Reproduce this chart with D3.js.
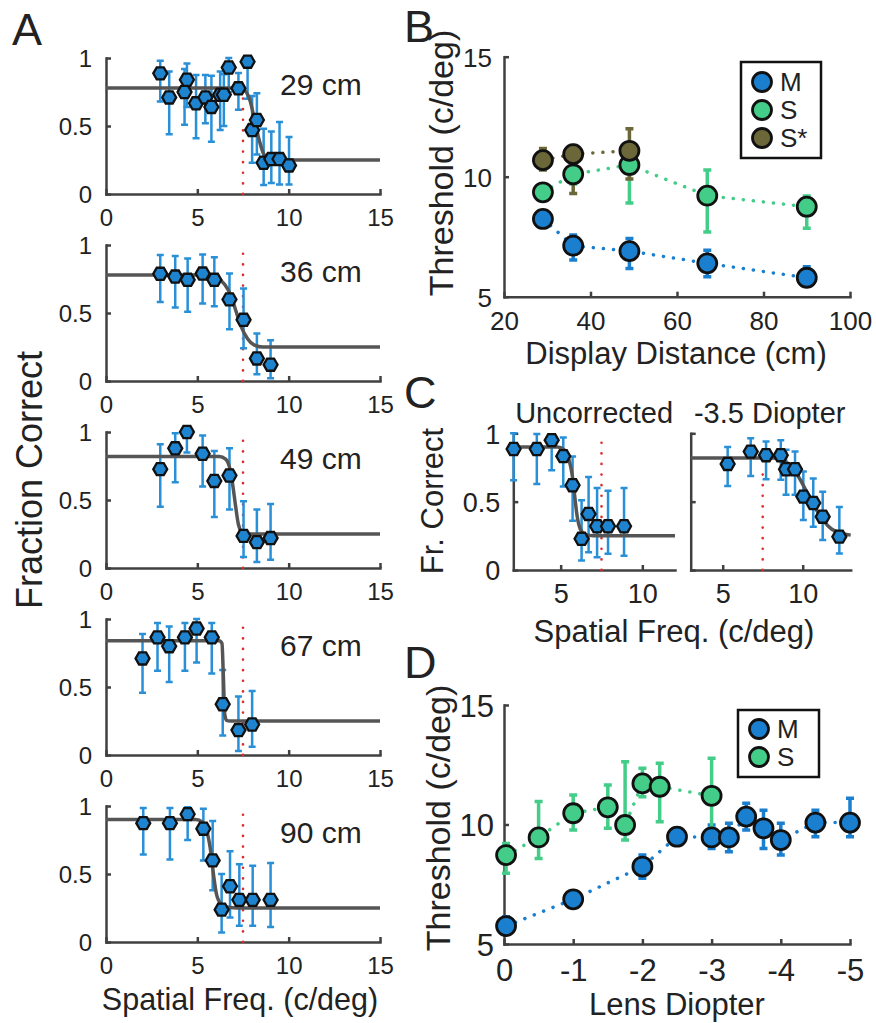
<!DOCTYPE html>
<html>
<head>
<meta charset="utf-8">
<script src="https://cdn.jsdelivr.net/npm/d3@7"></script>
<style>
  body { margin: 0; background: #fff; }
  svg { display: block; font-family: "Liberation Sans", Arial, Helvetica, sans-serif; }
</style>
</head>
<body>
<script>
//Panel A: fraction correct vs spatial frequency, one row per display distance.
const A_LABELS = ["29 cm", "36 cm", "49 cm", "67 cm", "90 cm"];
const A_X = [
  [2.97, 3.46, 4.3, 4.43, 4.93, 5.44, 5.77, 6.25, 6.45, 6.72, 7.25, 7.75, 8.0, 8.26, 8.63, 9.05, 9.5, 10.02],
  [2.97, 3.79, 4.47, 5.29, 5.93, 6.76, 7.53, 8.26, 9.01],
  [2.97, 3.79, 4.43, 5.29, 5.93, 6.76, 7.53, 8.26, 9.01],
  [2.0, 2.82, 3.46, 4.32, 4.96, 5.79, 6.39, 7.25, 8.0],
  [2.04, 3.5, 4.47, 5.33, 5.84, 6.33, 6.79, 7.3, 8.03, 9.01]
];
const A_Y = [
  [0.887, 0.71, 0.75, 0.84, 0.667, 0.71, 0.64, 0.73, 0.73, 0.93, 0.777, 0.973, 0.47, 0.544, 0.23, 0.257, 0.257, 0.21],
  [0.788, 0.768, 0.744, 0.79, 0.744, 0.6, 0.45, 0.166, 0.12],
  [0.727, 0.88, 1.0, 0.84, 0.64, 0.68, 0.236, 0.19, 0.22],
  [0.71, 0.865, 0.8, 0.865, 0.93, 0.865, 0.373, 0.183, 0.224],
  [0.874, 0.874, 0.94, 0.833, 0.6, 0.238, 0.41, 0.31, 0.31, 0.31]
];
const A_LO = [
  [0.68, 0.44, 0.51, 0.64, 0.41, 0.52, 0.385, 0.47, 0.5, 0.75, 0.62, 0.7, 0.23, 0.29, 0.066, 0.08, 0.07, 0.07],
  [0.58, 0.54, 0.51, 0.57, 0.55, 0.38, 0.24, 0.05, 0.02],
  [0.45, 0.63, 0.85, 0.6, 0.375, 0.43, 0.08, 0.045, 0.06],
  [0.457, 0.62, 0.536, 0.62, 0.68, 0.6, 0.144, 0.03, 0.06],
  [0.643, 0.607, 0.75, 0.6, 0.38, 0.07, 0.18, 0.119, 0.12, 0.11]
];
const A_HI = [
  [0.98, 0.9, 0.92, 0.96, 0.875, 0.875, 0.87, 0.9, 0.88, 1.0, 0.89, 0.99, 0.72, 0.74, 0.48, 0.46, 0.53, 0.42],
  [0.927, 0.92, 0.9, 0.93, 0.91, 0.79, 0.68, 0.35, 0.3],
  [0.91, 0.99, 1.0, 0.975, 0.86, 0.88, 0.49, 0.43, 0.47],
  [0.89, 0.97, 0.945, 0.97, 1.0, 0.97, 0.625, 0.43, 0.47],
  [0.986, 0.986, 0.99, 0.98, 0.89, 0.5, 0.667, 0.571, 0.56, 0.58]
];
//Fitted psychometric curves.
const A_FIT_X = [
  [0, 7.2, 7.6, 7.9, 8.15, 8.4, 8.65, 9.0, 9.5, 15],
  [0, 5.6, 6.1, 6.5, 6.8, 7.1, 7.4, 7.75, 8.1, 8.6, 15],
  [0, 6.2, 6.55, 6.8, 6.95, 7.1, 7.25, 7.45, 7.8, 15],
  [0, 6.2, 6.35, 6.42, 6.5, 6.6, 6.8, 15],
  [0, 4.9, 5.3, 5.55, 5.75, 5.9, 6.05, 6.3, 6.7, 7.2, 15]
];
const A_FIT_Y = [
  [0.78, 0.78, 0.76, 0.68, 0.53, 0.39, 0.29, 0.255, 0.25, 0.25],
  [0.78, 0.78, 0.76, 0.71, 0.64, 0.52, 0.4, 0.31, 0.265, 0.25, 0.25],
  [0.82, 0.82, 0.8, 0.72, 0.6, 0.45, 0.32, 0.265, 0.25, 0.25],
  [0.84, 0.84, 0.82, 0.6, 0.3, 0.255, 0.25, 0.25],
  [0.9, 0.9, 0.88, 0.8, 0.65, 0.48, 0.35, 0.28, 0.255, 0.25, 0.25]
];
const A_REF_X = 7.5;
const A_REF_TOP = [0.75, 0.97, 1.0, 0.98, 0.97];
const A_XTICKS = [0, 5, 10, 15];
const A_YTICKS = [0, 0.5, 1];

//Panel B: threshold vs display distance.
const B_DIST = [29, 36, 49, 67, 90];
const B_M = [8.24, 7.125, 6.9, 6.39, 5.79];
const B_M_LO = [8.0, 6.53, 6.18, 5.83, 5.56];
const B_M_HI = [8.5, 7.57, 7.43, 6.94, 6.25];
const B_S = [9.35, 10.1, 10.49, 9.21, 8.75];
const B_S_LO = [9.1, 9.7, 8.9, 7.7, 7.85];
const B_S_HI = [9.6, 10.5, 10.9, 10.28, 9.2];
const B_SSTAR_DIST = [29, 36, 49];
const B_SSTAR = [10.69, 10.94, 11.08];
const B_SSTAR_LO = [10.28, 9.3, 9.9];
const B_SSTAR_HI = [11.18, 11.3, 12.0];
const B_XTICKS = [20, 40, 60, 80, 100];
const B_YTICKS = [5, 10, 15];

//Panel C: uncorrected vs -3.5 diopter lens.
const C_TITLES = ["Uncorrected", "-3.5 Diopter"];
const C_X = [
  [2.12, 3.54, 4.45, 5.16, 5.73, 6.28, 6.71, 7.23, 7.9, 8.88],
  [5.31, 6.75, 7.71, 8.63, 8.96, 9.52, 10.04, 10.66, 11.25, 12.29]
];
const C_Y = [
  [0.885, 0.885, 0.95, 0.833, 0.62, 0.228, 0.41, 0.32, 0.32, 0.32],
  [0.776, 0.866, 0.84, 0.84, 0.737, 0.737, 0.537, 0.49, 0.39, 0.244]
];
const C_LO = [
  [0.657, 0.63, 0.73, 0.61, 0.36, 0.07, 0.13, 0.093, 0.118, 0.105],
  [0.615, 0.688, 0.663, 0.66, 0.55, 0.55, 0.366, 0.317, 0.22, 0.12]
];
const C_HI = [
  [1.0, 0.995, 0.975, 0.97, 0.83, 0.51, 0.68, 0.6, 0.58, 0.6],
  [0.9, 0.963, 0.94, 0.95, 0.88, 0.866, 0.72, 0.67, 0.573, 0.46]
];
const C_FIT_X = [
  [2.1, 4.8, 5.2, 5.5, 5.7, 5.85, 6.0, 6.2, 6.5, 7, 12],
  [3, 8.2, 8.8, 9.3, 9.8, 10.3, 10.8, 11.3, 11.8, 12.4, 13]
];
const C_FIT_Y = [
  [0.9, 0.9, 0.88, 0.81, 0.7, 0.55, 0.4, 0.3, 0.26, 0.25, 0.25],
  [0.82, 0.82, 0.8, 0.76, 0.67, 0.56, 0.45, 0.36, 0.3, 0.27, 0.255]
];
const C_DOMAINS = [[2.1, 12], [3, 13]];
const C_REF_TOP = [0.97, 0.77];
const C_XTICKS = [5, 10];
const C_YTICKS = [0, 0.5, 1];

//Panel D: threshold vs lens diopter.
const D_LENS_M = [-0.03, -1, -2, -2.5, -3, -3.25, -3.5, -3.75, -4, -4.5, -5];
const D_M = [5.75, 6.87, 8.24, 9.49, 9.46, 9.46, 10.33, 9.84, 9.35, 10.08, 10.08];
const D_M_LO = [5.45, 6.56, 7.75, 9.14, 9.0, 8.86, 9.77, 9.0, 8.72, 9.49, 9.49];
const D_M_HI = [6.14, 7.19, 8.72, 9.84, 9.98, 10.05, 10.89, 10.6, 10.05, 10.6, 11.1];
const D_LENS_S = [-0.03, -0.5, -1, -1.5, -1.75, -2, -2.25, -3];
const D_S = [8.72, 9.46, 10.47, 10.72, 9.98, 11.72, 11.58, 11.2];
const D_S_LO = [7.96, 8.58, 9.77, 9.84, 9.35, 11.16, 10.12, 9.42];
const D_S_HI = [9.2, 10.96, 11.23, 11.65, 12.63, 12.35, 12.56, 12.77];
const D_XTICKS = [0, -1, -2, -3, -4, -5];
const D_YTICKS = [5, 10, 15];

//Colours.
const AXIS = "#404040";
const TXT = "#222";
const FIT = "#555";
const REF = "#e02b2b";
const A_FILL = "#1f84cf";
const A_BAR = "#2990d8";
const M_COL = "#1b7fd0";
const S_COL = "#43cd88";
const SS_COL = "#6b6738";

const svg = d3.select("body")
    .append("svg")
    .attr("width", 876)
    .attr("height", 1023);

//Styles an axis drawn by d3 and places its tick labels.
function styleAxis(sel, fs, side, off) {
    sel.attr("font-size", null).attr("font-family", null);
    sel.select(".domain").attr("stroke", AXIS).attr("stroke-width", 2.5).attr("stroke-linecap", "square");
    sel.selectAll(".tick line").attr("stroke", AXIS).attr("stroke-width", 2.5);
    const t = sel.selectAll(".tick text").attr("font-size", fs).attr("fill", TXT);
    if (side === "bottom") t.attr("y", off).attr("dy", null);
    else t.attr("x", -off).attr("dy", "0.36em");
}

function addAxes(g, x, y, xt, yt, fs, xoff, yoff, showY) {
    const yb = y.range()[0];
    g.append("g")
        .attr("transform", "translate(0," + yb + ")")
        .call(d3.axisBottom(x).tickValues(xt).tickSizeInner(-5).tickSizeOuter(0).tickFormat(d => String(d)))
        .call(s => styleAxis(s, fs, "bottom", xoff));
    const ya = g.append("g")
        .attr("transform", "translate(" + x.range()[0] + ",0)")
        .call(d3.axisLeft(y).tickValues(yt).tickSizeInner(-5).tickSizeOuter(0).tickFormat(d => String(d)))
        .call(s => styleAxis(s, fs, "left", yoff));
    if (!showY) ya.selectAll(".tick text").remove();
}

//Vertical error bars with caps.
function errorBars(g, xs, lo, hi, x, y, color, w, cap) {
    g.append("g").selectAll("path")
        .data(xs)
        .enter()
        .append("path")
        .attr("d", (d, i) => {
            const X = x(d), y1 = y(lo[i]), y2 = y(hi[i]);
            return "M" + X + "," + y1 + "V" + y2 + "M" + (X - cap) + "," + y1 + "H" + (X + cap) + "M" + (X - cap) + "," + y2 + "H" + (X + cap);
        })
        .attr("stroke", color)
        .attr("stroke-width", w)
        .attr("fill", "none");
}

const hexagon = d3.line()(d3.range(6).map(k => [7 * Math.cos(k * Math.PI / 3), 7 * Math.sin(k * Math.PI / 3)])) + "Z";

function hexMarkers(g, xs, ys, x, y) {
    g.append("g").selectAll("path")
        .data(xs)
        .enter()
        .append("path")
        .attr("d", hexagon)
        .attr("transform", (d, i) => "translate(" + x(d) + "," + y(ys[i]) + ")")
        .attr("fill", A_FILL)
        .attr("stroke", "#111")
        .attr("stroke-width", 2.3);
}

function fitCurve(g, fx, fy, x, y) {
    g.append("path")
        .attr("d", d3.line().x(d => x(d)).y((d, i) => y(fy[i])).curve(d3.curveMonotoneX)(fx))
        .attr("fill", "none")
        .attr("stroke", FIT)
        .attr("stroke-width", 3.5);
}

function refLine(g, xv, top, x, y) {
    g.append("line")
        .attr("x1", x(xv)).attr("x2", x(xv))
        .attr("y1", y(0)).attr("y2", y(top))
        .attr("stroke", REF)
        .attr("stroke-width", 2.6)
        .attr("stroke-linecap", "round")
        .attr("stroke-dasharray", "0.1 10.5");
}

function dottedSeries(g, xs, ys, x, y, color) {
    g.append("path")
        .attr("d", d3.line().x(d => x(d)).y((d, i) => y(ys[i]))(xs))
        .attr("fill", "none")
        .attr("stroke", color)
        .attr("stroke-width", 3.5)
        .attr("stroke-linecap", "round")
        .attr("stroke-dasharray", "0.1 10");
}

function circles(g, xs, ys, x, y, color) {
    g.append("g").selectAll("circle")
        .data(xs)
        .enter()
        .append("circle")
        .attr("cx", d => x(d))
        .attr("cy", (d, i) => y(ys[i]))
        .attr("r", 9.5)
        .attr("fill", color)
        .attr("stroke", "#111")
        .attr("stroke-width", 2.8);
}

function text(str, x, y, fs, anchor, rotate) {
    const t = svg.append("text")
        .attr("font-size", fs)
        .attr("fill", TXT)
        .attr("text-anchor", anchor || "start")
        .text(str);
    if (rotate) t.attr("transform", "translate(" + x + "," + y + ") rotate(-90)");
    else t.attr("x", x).attr("y", y);
    return t;
}

function legend(x0, y0, w, h, labels, colors, ys) {
    const g = svg.append("g");
    g.append("rect")
        .attr("x", x0).attr("y", y0).attr("width", w).attr("height", h)
        .attr("fill", "#fff").attr("stroke", "#111").attr("stroke-width", 2.5);
    labels.forEach((l, i) => {
        g.append("circle")
            .attr("cx", x0 + 21).attr("cy", ys[i]).attr("r", 9.5)
            .attr("fill", colors[i]).attr("stroke", "#111").attr("stroke-width", 2.8);
        g.append("text")
            .attr("x", x0 + 39).attr("y", ys[i]).attr("dy", "0.36em")
            .attr("font-size", 26).attr("fill", TXT)
            .text(l);
    });
}

//Panel A.
const ax = d3.scaleLinear().domain([0, 15]).range([106, 380]);
A_LABELS.forEach((label, i) => {
    const top = 58 + i * 187;
    const ay = d3.scaleLinear().domain([0, 1]).range([top + 136, top]);
    const g = svg.append("g");
    addAxes(g, ax, ay, A_XTICKS, A_YTICKS, 24, 32, 14, true);
    refLine(g, A_REF_X, A_REF_TOP[i], ax, ay);
    errorBars(g, A_X[i], A_LO[i], A_HI[i], ax, ay, A_BAR, 2.5, 3.5);
    fitCurve(g, A_FIT_X[i], A_FIT_Y[i], ax, ay);
    hexMarkers(g, A_X[i], A_Y[i], ax, ay);
    text(label, 280, top + 37, 30);
});
text("Fraction Correct", 42, 480, 36, "middle", true);
text("Spatial Freq. (c/deg)", 240, 1010, 30.5, "middle");
text("A", 12, 45, 45);

//Panel B.
const bx = d3.scaleLinear().domain([20, 100]).range([504, 850]);
const by = d3.scaleLinear().domain([5, 15]).range([296.7, 56.7]);
const gB = svg.append("g");
addAxes(gB, bx, by, B_XTICKS, B_YTICKS, 26, 33, 12, true);
dottedSeries(gB, B_DIST, B_M, bx, by, M_COL);
dottedSeries(gB, B_DIST, B_S, bx, by, S_COL);
dottedSeries(gB, B_SSTAR_DIST, B_SSTAR, bx, by, SS_COL);
errorBars(gB, B_DIST, B_M_LO, B_M_HI, bx, by, M_COL, 3.5, 4);
errorBars(gB, B_DIST, B_S_LO, B_S_HI, bx, by, S_COL, 3.5, 4);
errorBars(gB, B_SSTAR_DIST, B_SSTAR_LO, B_SSTAR_HI, bx, by, SS_COL, 3.5, 4);
circles(gB, B_DIST, B_M, bx, by, M_COL);
circles(gB, B_DIST, B_S, bx, by, S_COL);
circles(gB, B_SSTAR_DIST, B_SSTAR, bx, by, SS_COL);
legend(741, 62, 80, 96, ["M", "S", "S*"], [M_COL, S_COL, SS_COL], [82, 110, 138]);
text("Threshold (c/deg)", 453, 163, 34, "middle", true);
text("Display Distance (cm)", 676, 364, 31, "middle");
text("B", 404, 42, 45);

//Panel C.
const cRanges = [[513.3, 675], [690.7, 850.7]];
const cy = d3.scaleLinear().domain([0, 1]).range([570, 433.3]);
C_TITLES.forEach((title, i) => {
    const cx = d3.scaleLinear().domain(C_DOMAINS[i]).range(cRanges[i]);
    const g = svg.append("g");
    addAxes(g, cx, cy, C_XTICKS, C_YTICKS, 27, 33, 13, i === 0);
    refLine(g, A_REF_X, C_REF_TOP[i], cx, cy);
    errorBars(g, C_X[i], C_LO[i], C_HI[i], cx, cy, A_BAR, 2.5, 3.5);
    fitCurve(g, C_FIT_X[i], C_FIT_Y[i], cx, cy);
    hexMarkers(g, C_X[i], C_Y[i], cx, cy);
    text(title, (cRanges[i][0] + cRanges[i][1]) / 2 + (i === 0 ? 0 : -1), 423, 29, "middle");
});
text("Fr. Correct", 443, 501, 31, "middle", true);
text("Spatial Freq. (c/deg)", 674, 642, 31, "middle");
text("C", 404, 408, 45);

//Panel D.
const dx = d3.scaleLinear().domain([0, -5]).range([504, 850]);
const dy = d3.scaleLinear().domain([5, 15]).range([944, 705]);
const gD = svg.append("g");
addAxes(gD, dx, dy, D_XTICKS, D_YTICKS, 31, 37, 10, true);
dottedSeries(gD, D_LENS_M, D_M, dx, dy, M_COL);
dottedSeries(gD, D_LENS_S, D_S, dx, dy, S_COL);
errorBars(gD, D_LENS_M, D_M_LO, D_M_HI, dx, dy, M_COL, 3.5, 4);
errorBars(gD, D_LENS_S, D_S_LO, D_S_HI, dx, dy, S_COL, 3.5, 4);
circles(gD, D_LENS_M, D_M, dx, dy, M_COL);
circles(gD, D_LENS_S, D_S, dx, dy, S_COL);
legend(738, 710, 81, 67, ["M", "S"], [M_COL, S_COL], [729, 757]);
text("Threshold (c/deg)", 450, 818, 34, "middle", true);
text("Lens Diopter", 677, 1015, 31, "middle");
text("D", 404, 678, 45);

console.log("File Loaded!");
</script>
</body>
</html>
